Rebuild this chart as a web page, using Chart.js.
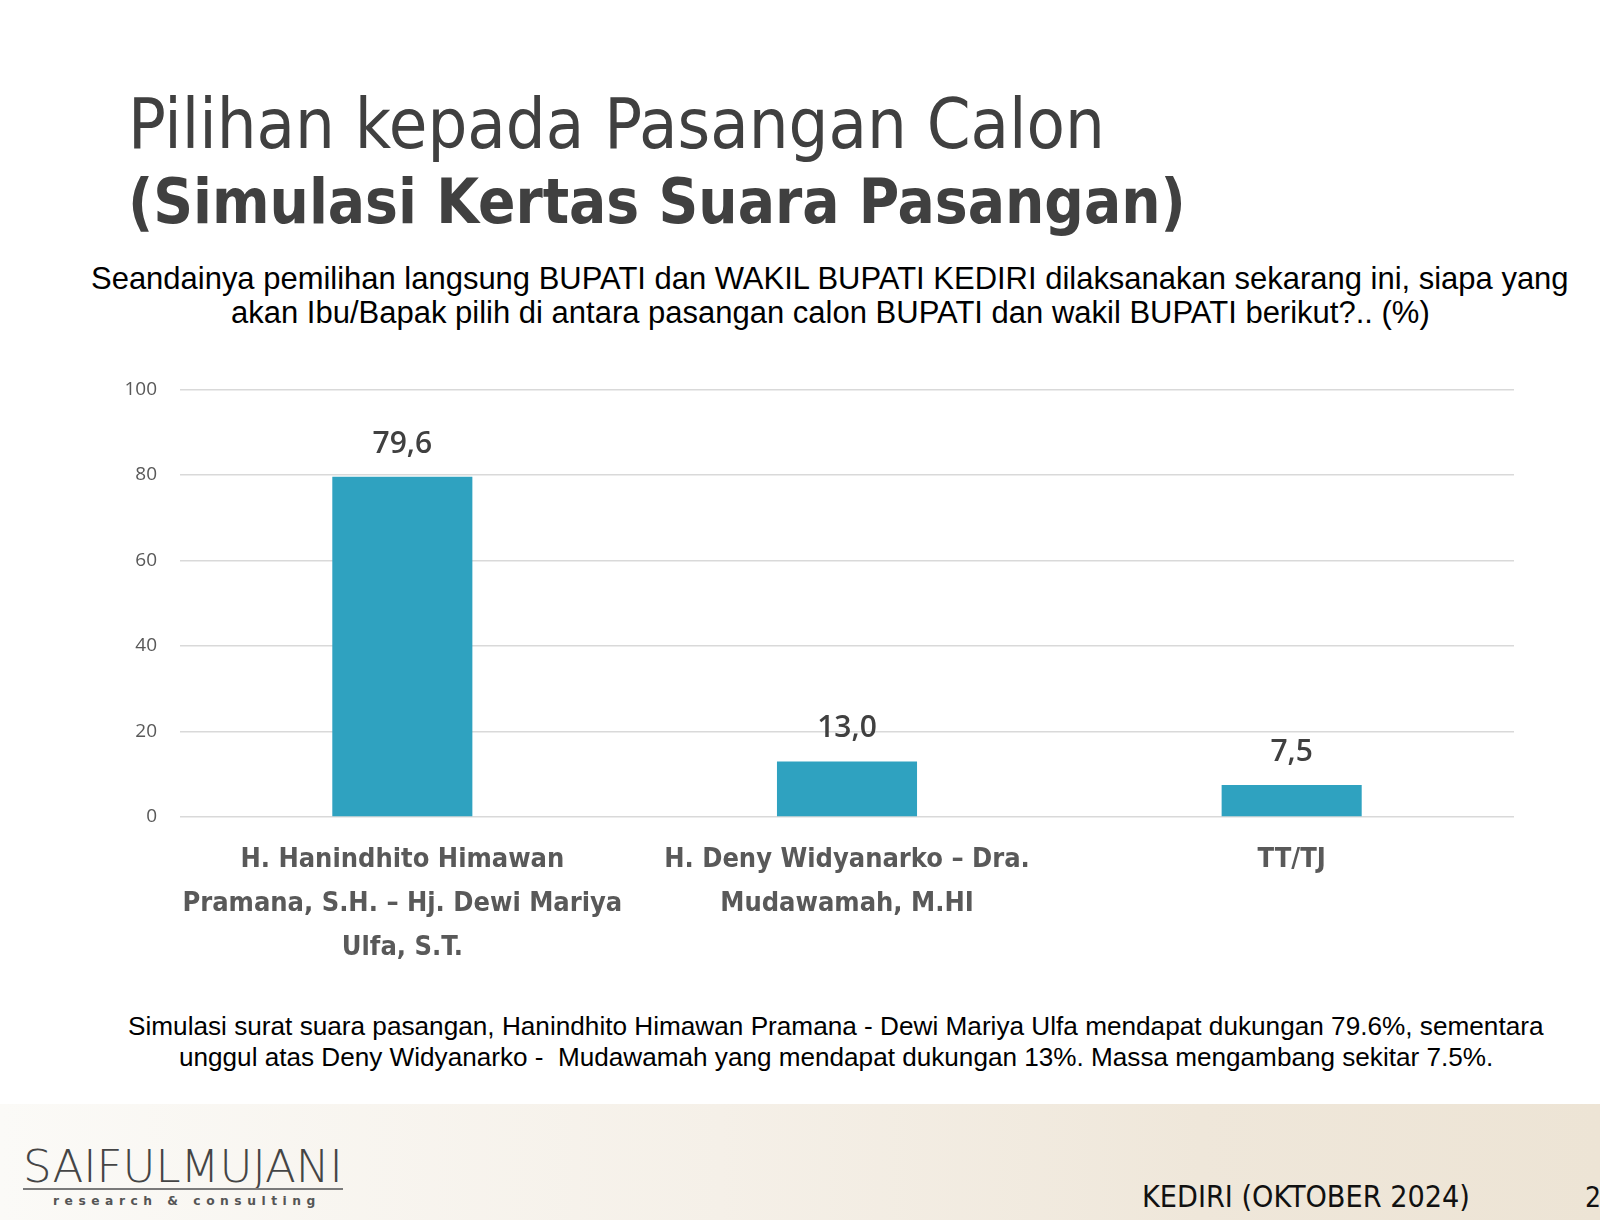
<!DOCTYPE html>
<html>
<head>
<meta charset="utf-8">
<script src="https://cdn.jsdelivr.net/npm/chart.js@4.4.1/dist/chart.umd.min.js"></script>
<style>
  html, body { margin: 0; padding: 0; }
  body { width: 1600px; height: 1220px; position: relative; overflow: hidden; background: #fff; }
  .band { position: absolute; left: 0; top: 1104px; width: 1600px; height: 116px;
          background: linear-gradient(90deg, #fbfaf7 0%, #f5f0e8 45%, #efe7da 75%, #ede4d5 100%); }
  .t { position: absolute; white-space: nowrap; line-height: 1; margin: 0; }
  #chartBox { position: absolute; left: 0; top: 355px; width: 1600px; height: 625px; }
  .rule { position: absolute; left: 23px; top: 1188px; width: 320px; height: 2px; background: #7a7a7a; }
</style>
</head>
<body>
<div class="band"></div>

<div class="t" id="title1" style="font-family:'DejaVu Sans Condensed';font-size:72px;color:#404040">Pilihan kepada Pasangan Calon</div>
<div class="t" id="title2" style="font-family:'DejaVu Sans Condensed';font-weight:bold;font-size:64px;color:#404040">(Simulasi Kertas Suara Pasangan)</div>
<div class="t" id="sub1" style="font-family:'Liberation Sans';font-size:29px;color:#000">Seandainya pemilihan langsung BUPATI dan WAKIL BUPATI KEDIRI dilaksanakan sekarang ini, siapa yang</div>
<div class="t" id="sub2" style="font-family:'Liberation Sans';font-size:29px;color:#000">akan Ibu/Bapak pilih di antara pasangan calon BUPATI dan wakil BUPATI berikut?.. (%)</div>

<div id="chartBox"><canvas id="chart"></canvas></div>

<div class="t" id="foot1" style="font-family:'Liberation Sans';font-size:24px;color:#000">Simulasi surat suara pasangan, Hanindhito Himawan Pramana - Dewi Mariya Ulfa mendapat dukungan 79.6%, sementara</div>
<div class="t" id="foot2" style="font-family:'Liberation Sans';font-size:24px;color:#000">unggul atas Deny Widyanarko -&nbsp; Mudawamah yang mendapat dukungan 13%. Massa mengambang sekitar 7.5%.</div>

<div class="t" id="logo" style="font-family:'DejaVu Sans';font-weight:200;font-size:40px;color:#454545">SAIFULMUJANI</div>
<div class="rule"></div>
<div class="t" id="logo2" style="font-family:'DejaVu Sans';font-weight:bold;font-size:12px;letter-spacing:0.45em;color:#555">research &amp; consulting</div>
<div class="t" id="place" style="font-family:'DejaVu Sans Condensed';font-size:28px;color:#111">KEDIRI (OKTOBER 2024)</div>
<div class="t" id="page" style="font-family:'DejaVu Sans Condensed';font-size:28px;color:#111">2</div>

<script>
// chart data
const categories = [
  ["H. Hanindhito Himawan", "Pramana, S.H. – Hj. Dewi Mariya", "Ulfa, S.T."],
  ["H. Deny Widyanarko – Dra.", "Mudawamah, M.HI"],
  ["TT/TJ"]
];
const values = [79.6, 13.0, 7.5];
const yMin = 0;
const yMax = 100;
const yStep = 20;

// place a one-line text: left x, baseline y, width w (font size is fitted to w)
function place(id, x, baseline, w) {
  const el = document.getElementById(id);
  el.style.left = x + 'px';
  el.style.top = '0px';
  if (w) {
    const fs = parseFloat(el.style.fontSize);
    const r = el.getBoundingClientRect();
    el.style.fontSize = (fs * w / r.width) + 'px';
  }
  const m = document.createElement('span');
  m.style.display = 'inline-block';
  m.style.width = '0';
  m.style.height = '0';
  el.appendChild(m);
  const b = m.getBoundingClientRect().top - el.getBoundingClientRect().top;
  el.removeChild(m);
  el.style.top = (baseline - b) + 'px';
}

function layoutText() {
  place('title1', 128, 148, 977);
  place('title2', 128, 223, 1058);
  place('sub1', 91, 289, 1478);
  place('sub2', 231, 323, 1199);
  place('foot1', 128, 1035, 1416);
  place('foot2', 179, 1066, 1315);
  place('logo', 23, 1182, 320);
  place('logo2', 53, 1205, 268);
  place('place', 1142, 1207, 328);
  place('page', 1585, 1207, 0);
}

const valueLabels = {
  id: 'valueLabels',
  afterDatasetsDraw(chart) {
    const ctx = chart.ctx;
    const meta = chart.getDatasetMeta(0);
    ctx.save();
    ctx.font = "600 30px 'Open Sans'";
    ctx.fillStyle = '#404040';
    ctx.textAlign = 'center';
    ctx.textBaseline = 'alphabetic';
    meta.data.forEach((bar, i) => {
      ctx.fillText(values[i].toFixed(1).replace('.', ','), bar.x, bar.y - 24);
    });
    ctx.restore();
  }
};

function makeChart() {
  new Chart(document.getElementById('chart'), {
    type: 'bar',
    data: {
      labels: categories,
      datasets: [{
        data: values,
        backgroundColor: '#2fa2c0',
        borderWidth: 0,
        categoryPercentage: 1,
        barPercentage: 0.315
      }]
    },
    options: {
      responsive: true,
      maintainAspectRatio: false,
      animation: false,
      layout: { padding: { top: 20, right: 86, bottom: 0, left: 0 } },
      plugins: { legend: { display: false }, tooltip: { enabled: false } },
      scales: {
        x: {
          grid: { display: false, drawTicks: false },
          border: { display: false },
          ticks: {
            color: '#595959',
            padding: 21,
            maxRotation: 0,
            autoSkip: false,
            font: { family: 'DejaVu Sans Condensed', weight: 'bold', size: 27, lineHeight: '44px' }
          },
          afterFit: (scale) => { scale.height = 163; }
        },
        y: {
          min: yMin,
          max: yMax,
          grid: { color: '#d9d9d9', lineWidth: 1.5, drawTicks: false },
          border: { display: false },
          ticks: {
            stepSize: yStep,
            color: '#595959',
            padding: 23,
            font: { family: 'Open Sans', size: 19 }
          },
          afterFit: (scale) => { scale.width = 180; }
        }
      }
    },
    plugins: [valueLabels]
  });
}

document.fonts.ready.then(() => {
  layoutText();
  makeChart();
});
</script>
</body>
</html>
